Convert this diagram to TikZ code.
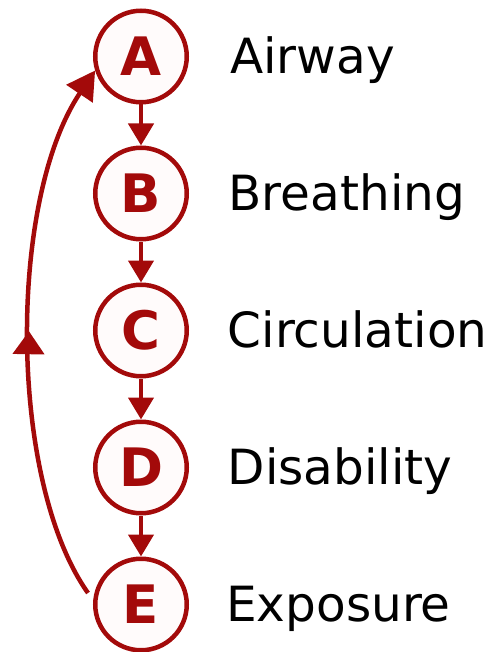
\documentclass[tikz,border=0pt]{standalone}
\usepackage{fontspec}
\setmainfont{DejaVu Sans}
\usetikzlibrary{arrows.meta,decorations.markings}
\definecolor{abcred}{RGB}{163,10,10}
\definecolor{abcfill}{RGB}{255,251,251}
\pgfdeclarelayer{bg}
\pgfsetlayers{bg,main}
\tikzset{
  stepcircle/.style={circle, draw=abcred, fill=abcfill, line width=4.5pt, inner sep=0pt, minimum size=91.5pt,
    text=abcred, font=\bfseries\fontsize{53}{60}\selectfont},
  steplabel/.style={anchor=base west, inner sep=0pt, font=\fontsize{48.5}{56}\selectfont, text=black},
  downarrow/.style={draw=abcred, line width=4.5pt, -{Triangle[length=22pt,width=25pt]}},
  backcurve/.style={draw=abcred, line width=4.5pt, -{Triangle[length=28pt,width=31pt]},
    postaction={decorate},
    decoration={markings, mark=at position 0.5 with {\arrow{Triangle[length=23pt,width=31pt]}}}}
}
\begin{document}
\begin{tikzpicture}[x=1pt,y=-1pt]
\useasboundingbox (0,0) rectangle (493,652);
\node[stepcircle] (cA) at (141,56.5) {A};
\node[stepcircle] (cB) at (141,193.5) {B};
\node[stepcircle] (cC) at (141,330.5) {C};
\node[stepcircle] (cD) at (141,467.5) {D};
\node[stepcircle] (cE) at (141,604.5) {E};
\node[steplabel] (lA) at (230,73.5) {Airway};
\node[steplabel] (lB) at (228.5,210.5) {Breathing};
\node[steplabel] (lC) at (227.5,347.5) {Circulation};
\node[steplabel] (lD) at (227.5,484.5) {Disability};
\node[steplabel] (lE) at (226,621.5) {Exposure};
\draw[downarrow] (cA.south) -- (cB.north);
\draw[downarrow] (cB.south) -- (cC.north);
\draw[downarrow] (cC.south) -- (cD.north);
\draw[downarrow] (cD.south) -- (cE.north);
\coordinate (s) at (88,593);
\begin{pgfonlayer}{bg}
\draw[backcurve] (s) .. controls (8,480) and (8,200) .. (cA.197);
\end{pgfonlayer}
\end{tikzpicture}
\end{document}
